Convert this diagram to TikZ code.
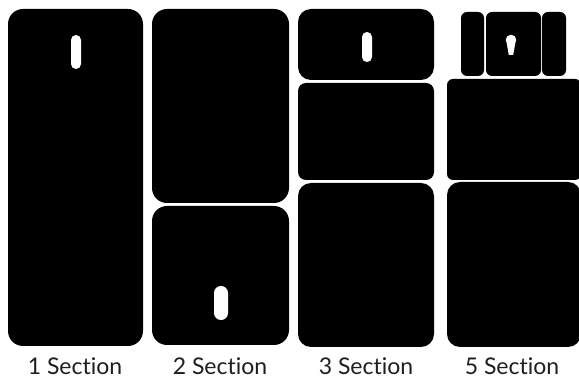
\documentclass[tikz,border=0pt]{standalone}
\usepackage{fontspec}
\setmainfont{Lato}[Ligatures={NoCommon}]
\begin{document}
\begin{tikzpicture}[x=1pt,y=-1pt,
  panel/.style={fill=black,rounded corners=#1},
  panel/.default=14,
  slot/.style={fill=white,rounded corners=4.9},
  lbl/.style={anchor=base,font=\fontsize{23}{26}\selectfont,text=black!88,inner sep=0pt}]
\useasboundingbox (0,0) rectangle (579,379);
% 1 Section
\fill[panel=15] (8,9) rectangle (143,346);
\fill[slot] (71,35) rectangle (81,69);
% 2 Section
\fill[panel=15] (152,9) rectangle (289,203);
\fill[panel=15] (152,206) rectangle (289,345);
\fill[fill=white,rounded corners=6.9] (214,286) rectangle (228,320);
% 3 Section
\fill[panel=13] (298,9) rectangle (434,80);
\fill[panel=8] (298,83) rectangle (434,180);
\fill[panel=13] (298,183) rectangle (434,347);
\fill[slot] (362,32) rectangle (372,62);
% 5 Section
\fill[panel=6] (461,12) rectangle (484,76);
\fill[panel=6] (486,12) rectangle (541,76);
\fill[panel=6] (542,12) rectangle (566,76);
\fill[white] (511,40) circle (5.3);
\fill[white] (506.5,42) -- (515.5,42) -- (513.2,55) -- (508.8,55) -- cycle;
\fill[panel=6] (447,79) rectangle (581,180);
\fill[panel=13] (447,182) rectangle (581,347);
% labels
\node[lbl] (l1) at (75,375) {1 Section};
\node[lbl] (l2) at (220,375) {2 Section};
\node[lbl] (l3) at (366,375) {3 Section};
\node[lbl] (l5) at (512,375) {5 Section};
\end{tikzpicture}
\end{document}
